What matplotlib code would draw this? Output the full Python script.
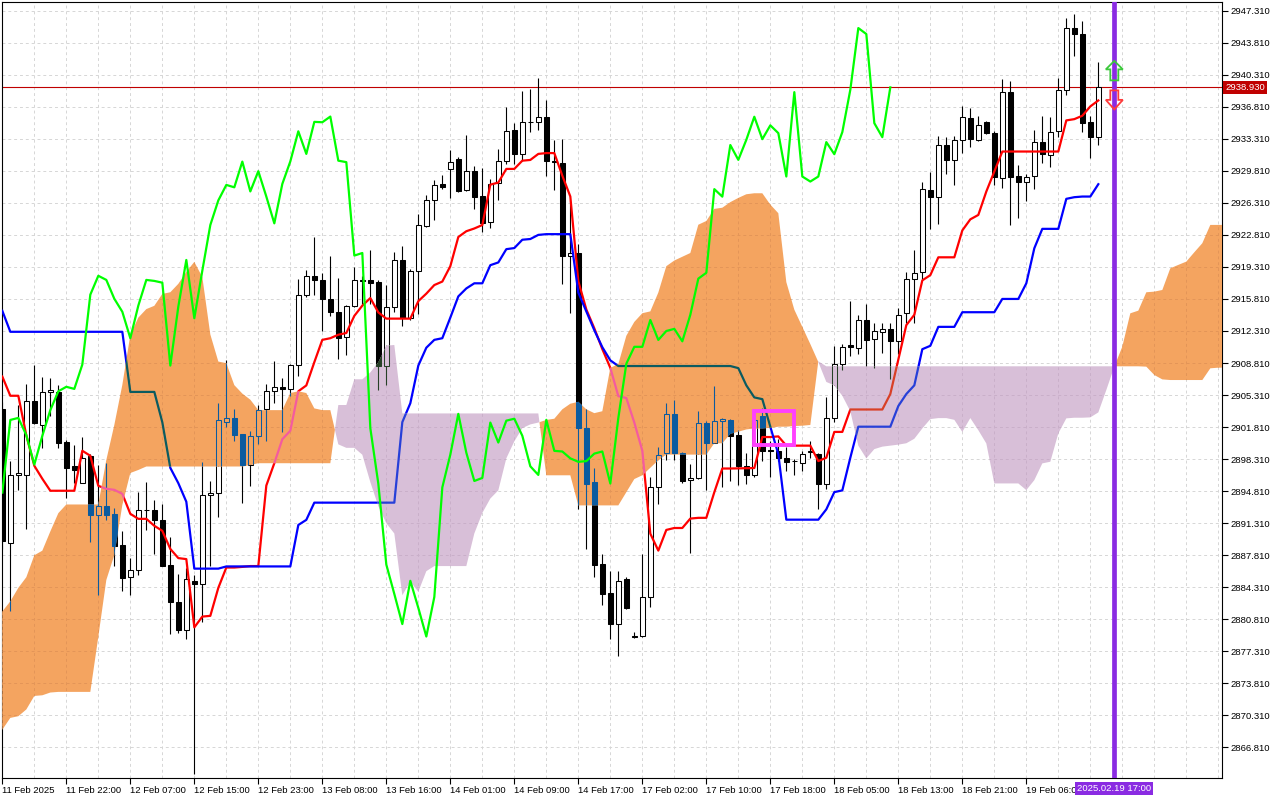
import numpy as np
import matplotlib
matplotlib.use('Agg')
import matplotlib.pyplot as plt
import matplotlib.transforms as mtransforms
from matplotlib.path import Path
from matplotlib.patches import PathPatch, Polygon, Rectangle

plt.rcParams['font.family'] = ['Liberation Sans', 'DejaVu Sans']

# XAUUSD H1 candles, bar 0 = 11 Feb 14:00 ... bar 137 = 19 Feb 15:00
opens = [
    2903.81, 2889.11, 2896.53, 2896.61, 2904.62, 2902.07, 2905.61, 2905.65, 2900.19, 2897.53,
    2895.68, 2898.64, 2892.18, 2893.21, 2892.36, 2888.93, 2885.42, 2886.16, 2892.73, 2892.73,
    2891.62, 2886.75, 2882.69, 2879.63, 2884.98, 2884.61, 2894.39, 2894.58, 2902.40, 2902.81,
    2901.04, 2897.67, 2900.85, 2903.74, 2905.72, 2906.21, 2905.98, 2908.64, 2916.28, 2918.34,
    2917.89, 2915.83, 2914.41, 2911.60, 2915.08, 2917.89, 2917.89, 2917.71, 2908.53, 2914.97,
    2920.07, 2913.70, 2918.90, 2923.77, 2926.58, 2928.38, 2929.96, 2931.08, 2927.71, 2929.77,
    2927.07, 2924.19, 2928.45, 2930.92, 2934.22, 2931.66, 2935.20, 2935.12, 2935.74, 2930.92,
    2930.72, 2920.55, 2920.83, 2901.69, 2895.84, 2886.86, 2883.65, 2880.28, 2885.22, 2879.00,
    2878.96, 2883.24, 2895.22, 2899.01, 2903.25, 2899.01, 2896.00, 2896.25, 2902.30, 2900.12,
    2902.43, 2902.59, 2900.91, 2897.60, 2896.58, 2902.98, 2899.29, 2899.21, 2898.39, 2898.12,
    2897.90, 2899.10, 2898.91, 2895.64, 2902.79, 2908.73, 2910.81, 2910.50, 2913.51, 2911.45,
    2912.24, 2912.54, 2911.18, 2914.27, 2918.03, 2918.78, 2927.70, 2926.99, 2932.63, 2931.01,
    2933.20, 2935.61, 2933.20, 2935.10, 2933.93, 2929.08, 2938.41, 2929.26, 2928.64, 2929.30,
    2932.95, 2931.49, 2934.11, 2938.67, 2945.41, 2944.76, 2935.13, 2933.49,
]
highs = [
    2904.50, 2898.08, 2904.17, 2906.57, 2908.60, 2907.31, 2907.20, 2906.39, 2900.41, 2899.82,
    2900.74, 2898.82, 2897.71, 2897.83, 2892.92, 2890.44, 2887.49, 2894.76, 2895.79, 2893.84,
    2893.40, 2889.78, 2885.79, 2886.46, 2885.64, 2897.97, 2895.94, 2904.43, 2909.16, 2903.81,
    2901.04, 2901.41, 2904.22, 2906.47, 2908.98, 2907.22, 2908.72, 2917.97, 2919.02, 2922.58,
    2918.64, 2920.52, 2918.08, 2915.16, 2919.32, 2918.34, 2921.15, 2917.89, 2917.33, 2920.89,
    2921.64, 2919.09, 2925.12, 2927.18, 2928.83, 2929.32, 2932.05, 2931.30, 2933.70, 2930.33,
    2930.07, 2928.94, 2932.16, 2936.77, 2935.04, 2938.54, 2938.75, 2939.98, 2937.51, 2933.19,
    2933.27, 2926.60, 2921.78, 2903.75, 2897.36, 2887.89, 2886.04, 2886.04, 2885.42, 2879.37,
    2887.89, 2896.33, 2899.63, 2904.49, 2904.78, 2899.09, 2897.78, 2903.54, 2902.51, 2906.30,
    2902.80, 2902.72, 2901.47, 2899.03, 2903.10, 2903.92, 2900.27, 2900.53, 2899.59, 2898.27,
    2899.21, 2900.27, 2899.03, 2905.05, 2910.69, 2910.88, 2915.58, 2914.08, 2915.21, 2913.14,
    2913.21, 2913.14, 2914.83, 2918.78, 2921.12, 2928.64, 2929.70, 2933.65, 2933.46, 2933.65,
    2936.85, 2936.66, 2935.79, 2935.21, 2934.11, 2939.84, 2939.58, 2930.47, 2929.48, 2934.29,
    2935.83, 2935.68, 2939.95, 2946.51, 2946.98, 2946.14, 2935.75, 2941.66,
]
lows = [
    2888.50, 2881.66, 2894.95, 2890.70, 2902.14, 2899.56, 2903.07, 2899.56, 2894.02, 2895.68,
    2895.68, 2889.22, 2883.43, 2891.62, 2886.64, 2883.87, 2883.50, 2885.64, 2890.59, 2887.93,
    2886.64, 2879.15, 2879.26, 2878.70, 2863.94, 2880.55, 2886.64, 2891.99, 2901.78, 2900.30,
    2893.47, 2895.42, 2899.92, 2900.29, 2904.41, 2901.23, 2905.16, 2907.40, 2916.02, 2916.21,
    2912.27, 2913.96, 2909.20, 2909.65, 2914.90, 2915.27, 2915.27, 2905.91, 2906.36, 2914.34,
    2912.84, 2913.47, 2914.15, 2923.62, 2924.45, 2927.82, 2926.88, 2927.45, 2927.56, 2925.69,
    2923.14, 2923.59, 2926.60, 2930.51, 2930.51, 2930.92, 2934.01, 2934.22, 2929.28, 2927.71,
    2917.42, 2914.25, 2892.83, 2888.51, 2885.42, 2882.33, 2878.63, 2876.78, 2881.92, 2878.71,
    2878.83, 2882.13, 2893.45, 2898.19, 2898.19, 2895.72, 2888.02, 2896.13, 2894.89, 2900.04,
    2895.31, 2895.92, 2895.45, 2895.64, 2896.39, 2898.09, 2896.39, 2898.09, 2896.96, 2896.58,
    2896.96, 2898.46, 2892.82, 2895.07, 2902.41, 2908.06, 2909.56, 2909.75, 2908.43, 2908.25,
    2909.94, 2907.04, 2909.75, 2913.14, 2913.14, 2918.03, 2923.49, 2924.05, 2929.51, 2928.27,
    2931.77, 2932.41, 2933.08, 2933.86, 2928.28, 2927.91, 2923.90, 2924.63, 2926.46, 2927.80,
    2930.65, 2930.28, 2933.56, 2938.12, 2942.39, 2934.00, 2931.20, 2932.65,
]
closes = [
    2889.41, 2896.53, 2896.79, 2904.62, 2902.26, 2905.65, 2905.84, 2900.11, 2897.38, 2897.16,
    2898.45, 2892.18, 2893.21, 2892.25, 2888.86, 2885.35, 2886.16, 2892.73, 2892.80, 2891.62,
    2886.64, 2882.65, 2879.63, 2885.24, 2884.61, 2894.39, 2894.65, 2902.59, 2902.81, 2900.93,
    2897.71, 2900.85, 2903.66, 2905.72, 2906.21, 2905.98, 2908.64, 2916.28, 2918.34, 2917.89,
    2915.83, 2914.41, 2911.52, 2915.08, 2917.89, 2917.78, 2917.59, 2908.53, 2914.97, 2920.07,
    2913.70, 2918.90, 2923.89, 2926.58, 2928.27, 2928.01, 2930.82, 2927.56, 2929.77, 2927.00,
    2924.07, 2928.38, 2930.84, 2934.13, 2931.66, 2935.16, 2935.12, 2935.74, 2930.92, 2930.76,
    2920.55, 2920.83, 2901.69, 2895.63, 2886.78, 2883.57, 2880.28, 2885.01, 2882.05, 2878.92,
    2883.24, 2895.22, 2898.80, 2903.25, 2899.01, 2895.92, 2896.25, 2902.30, 2900.12, 2902.51,
    2902.72, 2900.86, 2897.52, 2896.58, 2902.60, 2899.21, 2899.14, 2898.39, 2898.01, 2898.09,
    2898.91, 2899.14, 2895.64, 2902.79, 2908.73, 2910.58, 2910.58, 2913.51, 2911.33, 2912.31,
    2912.54, 2911.18, 2914.08, 2918.03, 2918.67, 2927.81, 2926.99, 2932.63, 2931.01, 2933.20,
    2935.72, 2933.27, 2934.78, 2933.93, 2929.19, 2938.41, 2929.19, 2928.64, 2929.19, 2932.95,
    2931.63, 2934.04, 2938.67, 2945.41, 2944.76, 2935.02, 2933.49, 2938.93,
]

# Ichimoku lines
tenkan = [
    2907.33, 2905.23, 2905.23, 2900.90, 2897.58, 2896.16, 2894.85, 2894.85, 2894.85, 2894.85,
    2899.22, 2898.67, 2895.39, 2895.06, 2894.95, 2894.51, 2892.33, 2891.78, 2891.78, 2891.02,
    2890.47, 2888.49, 2887.49, 2887.38, 2879.92, 2881.10, 2881.18, 2884.24, 2886.46, 2886.46,
    2886.53, 2886.62, 2886.62, 2895.42, 2897.86, 2900.48, 2901.41, 2905.72, 2906.36, 2908.90,
    2911.34, 2911.52, 2911.90, 2912.09, 2913.96, 2915.08, 2915.91, 2914.34, 2913.66, 2913.66,
    2913.66, 2913.66, 2915.57, 2916.39, 2917.33, 2917.71, 2919.39, 2922.58, 2923.21, 2923.51,
    2923.89, 2928.30, 2928.53, 2930.02, 2930.02, 2930.92, 2931.00, 2931.66, 2931.75, 2931.75,
    2929.28, 2927.01, 2917.75, 2914.66, 2912.60, 2910.33, 2908.28, 2905.19, 2904.98, 2902.30,
    2899.22, 2890.16, 2888.31, 2890.57, 2890.78, 2890.78, 2891.81, 2891.89, 2891.89, 2894.69,
    2897.28, 2897.28, 2897.30, 2897.33, 2897.33, 2900.72, 2900.72, 2900.79, 2899.78, 2899.78,
    2899.78, 2899.78, 2898.09, 2898.46, 2901.28, 2901.28, 2903.73, 2903.73, 2903.73, 2903.73,
    2903.73, 2905.42, 2909.19, 2912.95, 2914.08, 2917.84, 2918.41, 2920.36, 2920.36, 2920.36,
    2923.30, 2924.51, 2924.99, 2927.55, 2929.74, 2931.92, 2931.92, 2931.92, 2931.92, 2931.92,
    2931.92, 2931.92, 2931.92, 2935.32, 2935.46, 2935.83, 2936.85, 2937.50,
]
kijun = (
    [2914.51] + [2912.22] * 15 + [2905.65] * 4
    + [2902.33, 2897.35, 2895.68, 2893.65] + [2886.34] * 4 + [2886.58] * 9
    + [2891.11, 2891.67] + [2893.55] * 11
    + [2902.35, 2904.41, 2908.53, 2910.48, 2911.34, 2911.52, 2913.77, 2916.09, 2916.96,
       2917.52, 2917.52, 2919.50]
    + [2919.80, 2921.25, 2921.37, 2922.28, 2922.36, 2922.81] + [2922.89] * 4
    + [2916.51, 2914.45, 2912.39, 2910.54, 2909.10] + [2908.48] * 15
    + [2908.25, 2906.37, 2905.05, 2904.86, 2901.85, 2898.84] + [2891.69] * 5
    + [2892.82, 2894.70, 2894.89, 2898.46] + [2901.85] * 5
    + [2904.11, 2905.42, 2906.37, 2910.32, 2910.69] + [2912.76] * 3 + [2914.36] * 5
    + [2915.81] * 3 + [2917.52, 2921.35] + [2923.47] * 3
    + [2926.75, 2926.93, 2927.00, 2927.00, 2928.35]
)
# Senkou spans (already shifted 26 bars forward), bars 0..153
span_a = [
    2881.66, 2882.76, 2884.24, 2885.40, 2887.80, 2888.30, 2890.40, 2892.40, 2893.35, 2893.35,
    2893.35, 2893.35, 2893.35, 2898.21, 2902.04, 2906.41, 2911.87, 2913.77, 2914.70, 2915.06,
    2916.36, 2916.54, 2917.46, 2918.76, 2919.86, 2918.20, 2911.93, 2908.97, 2908.79, 2906.39,
    2905.47, 2904.80, 2903.66, 2903.66, 2903.66, 2903.66, 2905.53, 2905.72, 2905.53, 2903.85,
    2903.66, 2903.66, 2899.92, 2899.54, 2899.54, 2898.79, 2895.80, 2893.17, 2891.30, 2890.18,
    2883.43, 2884.93, 2883.81, 2886.06, 2886.62, 2886.62, 2886.62, 2886.62, 2886.62, 2890.18,
    2892.42, 2894.00, 2894.89, 2898.39, 2900.25, 2901.69, 2902.10, 2902.30, 2902.59, 2902.72,
    2903.75, 2904.36, 2904.57, 2903.75, 2903.33, 2903.54, 2908.28, 2908.69, 2911.78, 2913.30,
    2914.25, 2914.45, 2916.51, 2919.39, 2920.01, 2920.42, 2920.83, 2923.92, 2924.33, 2925.65,
    2925.78, 2926.39, 2926.85, 2927.25, 2927.36, 2927.36, 2926.12, 2925.18, 2917.65, 2914.64,
    2912.76, 2910.88, 2908.92, 2906.74, 2906.37, 2905.23, 2903.54, 2899.78, 2898.39, 2899.40,
    2899.67, 2899.78, 2899.89, 2900.04, 2900.53, 2901.66, 2902.68, 2902.79, 2902.79, 2902.60,
    2901.28, 2902.79, 2901.47, 2900.02, 2895.65, 2895.65, 2895.65, 2895.65, 2894.92, 2896.01,
    2897.84, 2898.02, 2901.12, 2902.76, 2902.83, 2902.83, 2902.87, 2903.41, 2905.86, 2908.41,
    2910.60, 2914.24, 2914.53, 2916.54, 2916.61, 2916.79, 2919.16, 2919.53, 2919.89, 2920.91,
    2921.90, 2923.90, 2923.90, 2923.90,
]
span_b = (
    [2868.74, 2870.03, 2870.21, 2870.95, 2872.43, 2872.50, 2872.80, 2872.87, 2872.87, 2872.87,
     2872.87, 2872.87]
    + [2878.90, 2885.10, 2887.83, 2893.29, 2896.79, 2897.12] + [2897.50] * 13
    + [2897.67] + [2897.86] * 10
    + [2904.22, 2904.22, 2907.03, 2907.03, 2907.78, 2908.90, 2910.70, 2910.78]
    + [2903.30] * 18 + [2896.54] * 4 + [2893.25] * 6
    + [2894.69, 2896.13, 2896.54, 2897.36, 2898.19] + [2898.80] * 6
    + [2900.04, 2900.04, 2901.07, 2901.30, 2901.55, 2901.66, 2901.66, 2901.73, 2901.85,
       2901.85, 2901.92, 2901.96, 2902.04]
    + [2909.00] + [2908.45] * 40
    + [2908.41, 2907.50, 2907.02] + [2906.95] * 5 + [2908.23, 2908.30, 2908.30]
)

time_labels = ['11 Feb 2025', '11 Feb 22:00', '12 Feb 07:00', '12 Feb 15:00', '12 Feb 23:00',
               '13 Feb 08:00', '13 Feb 16:00', '14 Feb 01:00', '14 Feb 09:00', '14 Feb 17:00',
               '17 Feb 02:00', '17 Feb 10:00', '17 Feb 18:00', '18 Feb 05:00', '18 Feb 13:00',
               '18 Feb 21:00', '19 Feb 06:00']
price_ticks = [2866.81, 2870.31, 2873.81, 2877.31, 2880.81, 2884.31, 2887.81, 2891.31,
               2894.81, 2898.31, 2901.81, 2905.31, 2908.81, 2912.31, 2915.81, 2919.31,
               2922.81, 2926.31, 2929.81, 2933.31, 2936.81, 2940.31, 2943.81, 2947.31]
last_price = 2938.93
marker_bar = 139
marker_label = '2025.02.19 17:00'
box_bars = (94, 99)
box_prices = (2899.9, 2903.6)

o, h, l, c = (np.array(v) for v in (opens, highs, lows, closes))
x = np.arange(len(closes))
xs = np.arange(len(span_a))
sa, sb = np.array(span_a), np.array(span_b)

fig = plt.figure(figsize=(12.8, 8), dpi=100)
ax = fig.add_axes([2 / 1280, 22 / 800, 1220 / 1280, 776 / 800])


def draw_grid(color, z, clip=None):
    arts = [ax.axvline(g, color=color, lw=0.7, ls=(0, (3, 3)), zorder=z) for g in range(0, 153, 4)]
    arts += [ax.axhline(p, color=color, lw=0.7, ls=(0, (3, 3)), zorder=z) for p in price_ticks]
    if clip is not None:
        for a in arts:
            a.set_clip_path(clip)


def draw_candles(up_face, down_face, edge, z):
    wicks = ax.vlines(x, l, h, colors=edge, lw=0.8, zorder=z)
    faces = [up_face if cc > oo else down_face for oo, cc in zip(o, c)]
    bars = ax.bar(x, np.maximum(np.abs(c - o), 0.03), bottom=np.minimum(o, c), width=0.56,
                  color=faces, edgecolor=edge, linewidth=0.75, zorder=z)
    return [wicks] + list(bars)


def draw_lines(t_color, k_color, z):
    t, = ax.plot(x, tenkan, color=t_color, lw=1.6, zorder=z)
    k, = ax.plot(x, kijun, color=k_color, lw=1.6, zorder=z)
    return [t, k]


def clip_from(coll):
    path = Path.make_compound_path(*coll.get_paths())
    return PathPatch(path, transform=ax.transData)


draw_grid('#d6d6d6', 0.5)
ax.axhline(last_price, color='#c00000', lw=0.8, zorder=1)
draw_candles('white', 'black', 'black', 2)
draw_lines('#ff0000', '#0000ff', 3)

# cloud drawn over candles; things under it show in inverted colours like in MT5
up_fill = ax.fill_between(xs, sa, sb, where=sa >= sb, interpolate=True,
                          facecolor='#f4a460', edgecolor='none', lw=0, zorder=4)
dn_fill = ax.fill_between(xs, sa, sb, where=sa < sb, interpolate=True,
                          facecolor='#d8bfd8', edgecolor='none', lw=0, zorder=4)

palettes = [
    (up_fill, '#f4a460', '#0b5b9f', '#f45b9f', '#0b5b60', '#e39558'),
    (dn_fill, '#d8bfd8', '#274027', '#d84027', '#2740d8', '#c9afc9'),
]
for fill, white_c, black_c, red_c, blue_c, grid_c in palettes:
    clip = clip_from(fill)
    draw_grid(grid_c, 4.2, clip)
    for a in draw_candles(white_c, black_c, black_c, 5) + draw_lines(red_c, blue_c, 5.5):
        a.set_clip_path(clip)

# chikou span = close shifted 26 bars back
ax.plot(x[:-26], c[26:], color='#00ff00', lw=1.6, zorder=6)

ax.add_patch(Rectangle((box_bars[0], box_prices[0]), box_bars[1] - box_bars[0],
                       box_prices[1] - box_prices[0], fill=False, edgecolor='#ff40ff',
                       lw=2.8, zorder=7))
ax.axvline(marker_bar, color='#8a2be2', lw=3.4, zorder=7)

# buy / sell arrow objects, sized in pixels
trans = fig.dpi_scale_trans + mtransforms.ScaledTranslation(marker_bar, last_price, ax.transData)
up_arrow = np.array([(-4, 7), (4, 7), (4, 18), (8.5, 18), (0, 26.5), (-8.5, 18), (-4, 18)]) / 100
dn_arrow = np.array([(-4, -3), (4, -3), (4, -12.5), (8.5, -12.5), (0, -22), (-8.5, -12.5), (-4, -12.5)]) / 100
ax.add_patch(Polygon(up_arrow, closed=True, fill=False, edgecolor='#3cc83c', lw=1.3,
                     transform=trans, zorder=9))
ax.add_patch(Polygon(dn_arrow, closed=True, fill=False, edgecolor='#ff3c3c', lw=1.3,
                     transform=trans, zorder=9))

ax.set_xlim(-0.04, 152.46)
ax.set_ylim(2863.46, 2948.26)

ax.yaxis.tick_right()
ax.set_yticks(price_ticks)
ax.set_yticklabels([f'{p:.3f}' for p in price_ticks])
ax.set_xticks(range(0, 129, 8))
ax.set_xticklabels(time_labels, ha='left')
ax.tick_params(axis='both', direction='out', length=4, width=0.8, pad=2,
               labelsize=6.8, colors='black')
for s in ax.spines.values():
    s.set_color('black')
    s.set_linewidth(0.8)

ax.text(1.0 + 3 / 1220, last_price, f'{last_price:.3f}',
        transform=mtransforms.blended_transform_factory(ax.transAxes, ax.transData),
        ha='left', va='center', color='white', fontsize=6.8, clip_on=False, zorder=10,
        bbox=dict(boxstyle='square,pad=0.25', facecolor='#c00000', edgecolor='none'))
ax.text(marker_bar, -0.0075, marker_label,
        transform=mtransforms.blended_transform_factory(ax.transData, ax.transAxes),
        ha='center', va='top', color='white', fontsize=6.8, clip_on=False, zorder=10,
        bbox=dict(boxstyle='square,pad=0.2', facecolor='#8a2be2', edgecolor='none'))

fig.savefig('out.png', dpi=100)
